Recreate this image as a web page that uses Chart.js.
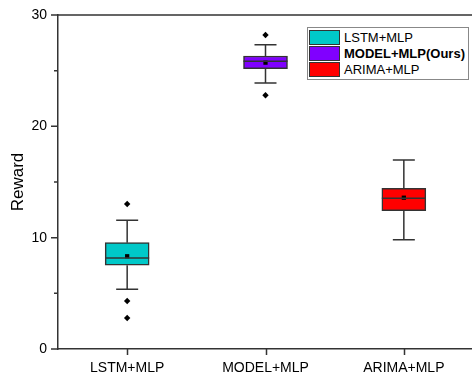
<!DOCTYPE html>
<html>
<head>
<meta charset="utf-8">
<script src="https://cdn.jsdelivr.net/npm/chart.js@4/dist/chart.umd.min.js"></script>
<style>
  html, body { margin: 0; padding: 0; background: #fff; overflow: hidden; }
  #wrap { position: relative; width: 472px; height: 372px; overflow: hidden; }
  #legend {
    position: absolute; left: 307px; top: 27px; width: 159px;
    border: 1px solid #888; background: #fff;
    font-family: "Liberation Sans", Arial, sans-serif; font-size: 13px; color: #000;
    padding: 1px 0 1px 1px;
  }
  .row { display: flex; align-items: center; height: 16.3px; }
  .sw { width: 29px; height: 13px; border: 1px solid #333; margin-right: 4px; }
</style>
</head>
<body>
<div id="wrap">
  <canvas id="box" width="477" height="372"></canvas>
  <div id="legend"></div>
</div>
<script>
var categories = ['LSTM+MLP', 'MODEL+MLP', 'ARIMA+MLP'];
var legendNames = ['LSTM+MLP', 'MODEL+MLP(Ours)', 'ARIMA+MLP'];
var colors = ['#00C8C8', '#8000FF', '#FF0000'];
var q1 = [7.52, 25.18, 12.42];
var q3 = [9.55, 26.32, 14.43];
var medians = [8.17, 25.84, 13.54];
var means = [8.33, 25.72, 13.59];
var whiskLow = [5.36, 23.89, 9.82];
var whiskHigh = [11.56, 27.33, 16.98];
// outliers, one row per rank (null where a box has fewer)
var outlierHigh = [13.02, 28.2, null];
var outlierLow1 = [4.31, 22.79, null];
var outlierLow2 = [2.78, null, null];
var yTicks = [0, 10, 20, 30];
var yMinor = [5, 15, 25];

var FONT = '"Liberation Sans", Arial, sans-serif';

var boxSets = categories.map(function (c, i) {
    var d = categories.map(function () { return null; });
    d[i] = [q1[i], q3[i]];
    return {
        type: 'bar',
        label: legendNames[i],
        data: d,
        backgroundColor: colors[i],
        borderColor: '#333',
        borderWidth: 1.5,
        borderSkipped: false,
        grouped: false,
        barThickness: 44,
        order: 2
    };
});

function pointSet(label, values, style, r) {
    return {
        type: 'line',
        label: label,
        data: values,
        showLine: false,
        pointStyle: style,
        pointRadius: r,
        backgroundColor: '#000',
        borderColor: '#000',
        borderWidth: 0,
        order: 0
    };
}

// whiskers, caps, medians, axis ticks and top frame line
var boxPlugin = {
    id: 'boxParts',
    afterDatasetsDraw: function (chart) {
        var ctx = chart.ctx, xs = chart.scales.x, ys = chart.scales.y;
        ctx.save();
        ctx.strokeStyle = '#333';
        ctx.lineWidth = 1.5;
        categories.forEach(function (c, i) {
            var x = xs.getPixelForValue(i);
            var cap = 11;
            ctx.beginPath();
            ctx.moveTo(x, ys.getPixelForValue(q3[i]));
            ctx.lineTo(x, ys.getPixelForValue(whiskHigh[i]));
            ctx.moveTo(x, ys.getPixelForValue(q1[i]));
            ctx.lineTo(x, ys.getPixelForValue(whiskLow[i]));
            ctx.moveTo(x - cap, ys.getPixelForValue(whiskHigh[i]));
            ctx.lineTo(x + cap, ys.getPixelForValue(whiskHigh[i]));
            ctx.moveTo(x - cap, ys.getPixelForValue(whiskLow[i]));
            ctx.lineTo(x + cap, ys.getPixelForValue(whiskLow[i]));
            ctx.moveTo(x - 22, ys.getPixelForValue(medians[i]));
            ctx.lineTo(x + 22, ys.getPixelForValue(medians[i]));
            ctx.stroke();
        });
        var a = chart.chartArea;
        ctx.beginPath();
        ctx.moveTo(a.left, a.top);
        ctx.lineTo(a.right, a.top);
        yTicks.forEach(function (v) {
            var y = ys.getPixelForValue(v);
            ctx.moveTo(a.left - 7, y);
            ctx.lineTo(a.left, y);
        });
        yMinor.forEach(function (v) {
            var y = ys.getPixelForValue(v);
            ctx.moveTo(a.left - 4, y);
            ctx.lineTo(a.left, y);
        });
        categories.forEach(function (c, i) {
            var x = Math.round(xs.getPixelForValue(i)) + 0.5;
            ctx.moveTo(x, a.bottom);
            ctx.lineTo(x, a.bottom + 6);
        });
        ctx.stroke();
        ctx.restore();
    }
};

var chart = new Chart(document.getElementById('box').getContext('2d'), {
    type: 'bar',
    data: {
        labels: categories,
        datasets: boxSets.concat([
            pointSet('mean', means, 'rect', 3),
            pointSet('outlier high', outlierHigh, 'rectRot', 3.2),
            pointSet('outlier low', outlierLow1, 'rectRot', 3.2),
            pointSet('outlier low 2', outlierLow2, 'rectRot', 3.2)
        ])
    },
    options: {
        responsive: false,
        animation: false,
        layout: { padding: { top: 15, right: 0, left: 0, bottom: 0 } },
        plugins: { legend: { display: false }, tooltip: { enabled: false } },
        scales: {
            x: {
                offset: true,
                grid: { display: false, drawTicks: true, tickLength: 8 },
                border: { display: true, color: '#333', width: 1.5 },
                ticks: { color: '#000', font: { family: FONT, size: 14 }, padding: 3, maxRotation: 0 },
                afterFit: function (s) { s.height = 23; }
            },
            y: {
                min: 0, max: 30,
                afterBuildTicks: function (s) { s.ticks = yTicks.map(function (v) { return { value: v }; }); },
                grid: { display: false, drawTicks: true, tickLength: 8 },
                border: { display: true, color: '#333', width: 1.5 },
                ticks: { color: '#000', font: { family: FONT, size: 14 }, padding: 3 },
                title: { display: true, text: 'Reward', color: '#000', font: { family: FONT, size: 17 }, padding: { top: 8, bottom: 0 } },
                afterFit: function (s) { s.width = 58; }
            }
        }
    },
    plugins: [boxPlugin]
});

// legend with the bold "ours" entry
var lg = document.getElementById('legend');
boxSets.forEach(function (ds, i) {
    var row = document.createElement('div');
    row.className = 'row';
    var sw = document.createElement('span');
    sw.className = 'sw';
    sw.style.background = ds.backgroundColor;
    var t = document.createElement('span');
    t.textContent = ds.label;
    if (i === 1) t.style.fontWeight = 'bold';
    row.appendChild(sw);
    row.appendChild(t);
    lg.appendChild(row);
});
</script>
</body>
</html>
